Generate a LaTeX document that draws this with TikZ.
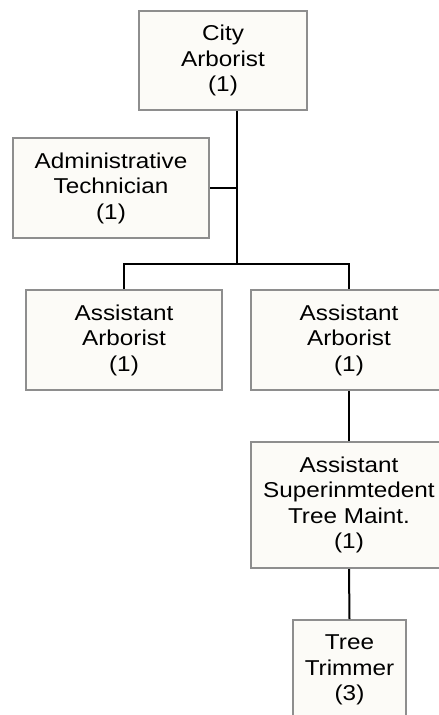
\documentclass[tikz,border=0pt]{standalone}
\usepackage{fontspec}
\setmainfont[FakeStretch=1.13]{Liberation Sans}
\definecolor{boxfill}{HTML}{FCFBF7}
\definecolor{boxline}{HTML}{8E8E8E}
\begin{document}
\begin{tikzpicture}[x=1pt,y=-1pt,
  orgbox/.style={draw=boxline, fill=boxfill, line width=2pt, inner sep=0pt, align=center,
    font=\fontsize{21.5pt}{25.5pt}\selectfont},
  link/.style={draw=black, line width=2pt}]
\useasboundingbox (0,0) rectangle (439,715);
\clip (0,0) rectangle (439,715);
\node[orgbox, minimum width=168pt, minimum height=99pt] (city) at (223,60.5) {City\\Arborist\\(1)};
\node[orgbox, minimum width=196pt, minimum height=100pt] (admin) at (111,188) {Administrative\\Technician\\(1)};
\node[orgbox, minimum width=196pt, minimum height=100pt] (aal) at (124,340) {Assistant\\Arborist\\(1)};
\node[orgbox, minimum width=196pt, minimum height=100pt] (aar) at (349,340) {Assistant\\Arborist\\(1)};
\node[orgbox, minimum width=196pt, minimum height=126pt] (sup) at (349,505) {Assistant\\Superinmtedent\\Tree Maint.\\(1)};
\node[orgbox, minimum width=113pt, minimum height=100pt] (trim) at (349.5,670) {Tree\\Trimmer\\(3)};
\coordinate (bus) at (237,264);
\draw[link] (city.south -| bus) -- (bus);
\draw[link] (admin.east) -- (admin.east -| bus);
\draw[link] (aal.north) |- (bus) -| (aar.north);
\draw[link] (aar.south) -- (sup.north);
\draw[link] (sup.south) -- (trim.north);
\end{tikzpicture}
\end{document}
